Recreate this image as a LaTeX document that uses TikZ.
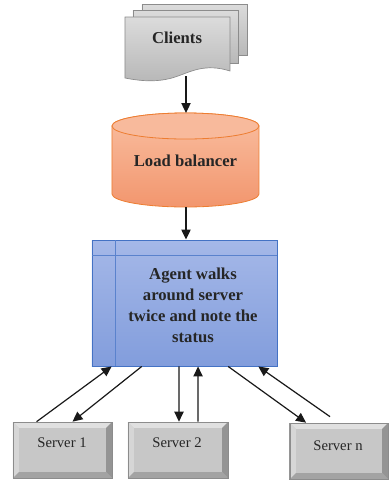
\documentclass[tikz,border=0pt]{standalone}
\usepackage{fontspec}
\setmainfont{Liberation Serif}
\usetikzlibrary{calc,arrows.meta}
\definecolor{cylline}{RGB}{237,125,49}
\definecolor{cyltop}{RGB}{249,190,160}
\definecolor{cylbot}{RGB}{242,150,110}
\definecolor{cylcap}{RGB}{248,186,156}
\definecolor{agline}{RGB}{68,114,196}
\definecolor{agin}{RGB}{90,130,205}
\definecolor{agtop}{RGB}{165,184,232}
\definecolor{agbot}{RGB}{130,157,220}
\begin{document}
\begin{tikzpicture}[x=0.75pt,y=-0.75pt,
  lbl/.style={font=\fontsize{12.5}{15.8}\selectfont\bfseries, text=black!85, align=center},
  srvlbl/.style={font=\fontsize{11}{13}\selectfont, text=black!85},
  arr/.style={-{Triangle[length=7.5pt,width=7pt]}, line width=0.9pt, black!90},
  sheet/.style={draw=black!45, line width=0.5pt, top color=black!14, bottom color=black!28},
  srvbox/.style={draw=black!45, line width=0.5pt, fill=black!24, minimum width=99*0.75pt, minimum height=56*0.75pt, inner sep=0pt},
]
\useasboundingbox (0,0) rectangle (389,480);

% ---------- Clients (multi-document) ----------
\path[sheet] (142,4) rectangle (247,55);
\path[sheet] (133,10) rectangle (238,63);
\path[sheet] (125,17) -- (230,17) -- (230,71)
   .. controls (205,63) and (190,72) .. (178,76)
   .. controls (162,82) and (145,82) .. (125,78) -- cycle;
\node[lbl] (clients) at (177,38) {Clients};
\coordinate (clientsout) at (186,76);

% ---------- Load balancer (cylinder) ----------
\path[draw=cylline, line width=0.6pt, top color=cyltop, bottom color=cylbot]
  (112,126) -- (112,194) arc[start angle=180,end angle=0,x radius=73.5,y radius=13]
  -- (259,126) arc[start angle=0,end angle=-180,x radius=73.5,y radius=13] -- cycle;
\path[draw=cylline, line width=0.6pt, fill=cylcap]
  (185.5,126) ellipse[x radius=73.5,y radius=13];
\node[lbl] (lb) at (185.5,161) {Load balancer};
\coordinate (lbtop) at (186,113);
\coordinate (lbbot) at (186,207);

% ---------- Agent box ----------
\node[draw=agline, line width=0.7pt, top color=agtop, bottom color=agbot,
  minimum width=185*0.75pt, minimum height=126*0.75pt, inner sep=0pt] (agent) at (184.5,303) {};
\draw[agin, line width=0.6pt] (92,255) -- (277,255);
\draw[agin, line width=0.6pt] (115,240) -- (115,366);
\node[lbl] (agenttext) at (193,305) {Agent walks\\around server\\twice and note the\\status};

% ---------- Servers ----------
\newcommand{\bevelbox}[5]{% name, x1, y1, x2, y2
  \node[srvbox] (#1) at ({(#2+#4)/2},{(#3+#5)/2}) {};
  \fill[black!12] (#2,#3) -- (#4,#3) -- ({#4-6},{#3+6}) -- ({#2+6},{#3+6}) -- cycle;
  \fill[black!16] (#2,#3) -- ({#2+6},{#3+6}) -- ({#2+6},{#5-6}) -- (#2,#5) -- cycle;
  \fill[black!42] (#4,#3) -- (#4,#5) -- ({#4-6},{#5-6}) -- ({#4-6},{#3+6}) -- cycle;
  \fill[black!36] (#2,#5) -- (#4,#5) -- ({#4-6},{#5-6}) -- ({#2+6},{#5-6}) -- cycle;
  \fill[black!22] ({#2+6},{#3+6}) rectangle ({#4-6},{#5-6});
  \draw[black!45, line width=0.5pt] (#2,#3) rectangle (#4,#5);
}
\bevelbox{s1}{13}{422}{112}{478}
\bevelbox{s2}{128}{422}{228}{478}
\bevelbox{sn}{290}{423}{388}{479}
\node[srvlbl] at (62,443) {Server 1};
\node[srvlbl] at (177,443) {Server 2};
\node[srvlbl] at (338,446) {Server n};

% ---------- Connectors ----------
\draw[arr] (clientsout) -- (lbtop);
\draw[arr] (lbbot) -- (agent.north -| lbbot);

\draw[arr] ($(s1.north west)!0.24!(s1.north east)$) -- ($(agent.south west)!0.108!(agent.south east)$);
\draw[arr] ($(agent.south west)!0.27!(agent.south east)$) -- ($(s1.north west)!0.6!(s1.north east)$);
\draw[arr] ($(agent.south west)!0.47!(agent.south east)$) -- ($(s2.north west)!0.51!(s2.north east)$);
\draw[arr] ($(s2.north west)!0.70!(s2.north east)$) -- ($(agent.south west)!0.573!(agent.south east)$);
\draw[arr] ($(agent.south west)!0.735!(agent.south east)$) -- ($(sn.north west)!0.17!(sn.north east)$);
\draw[arr] ($(sn.north west)!0.41!(sn.north east)+(0,-6)$) -- ($(agent.south west)!0.897!(agent.south east)$);
\end{tikzpicture}
\end{document}
